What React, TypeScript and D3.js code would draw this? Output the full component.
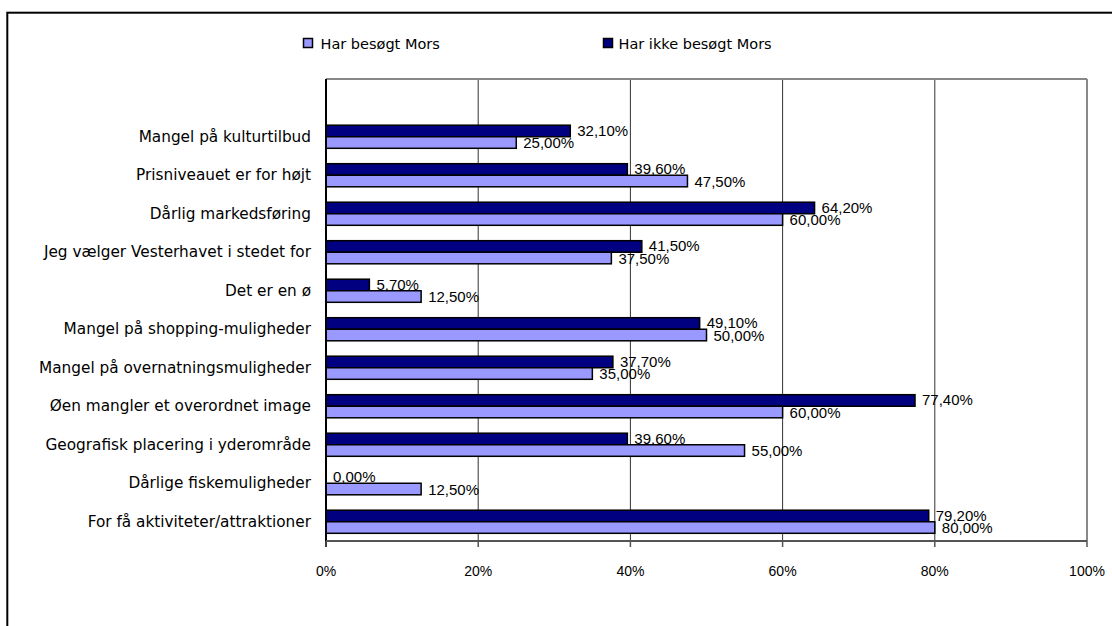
import React from "react";
import * as d3 from "d3";

// Survey answers: reasons for not choosing Mors (share of respondents, %)
const categories = [
  "Mangel på kulturtilbud",
  "Prisniveauet er for højt",
  "Dårlig markedsføring",
  "Jeg vælger Vesterhavet i stedet for",
  "Det er en ø",
  "Mangel på shopping-muligheder",
  "Mangel på overnatningsmuligheder",
  "Øen mangler et overordnet image",
  "Geografisk placering i yderområde",
  "Dårlige fiskemuligheder",
  "For få aktiviteter/attraktioner",
];

const visitedValues = [25.0, 47.5, 60.0, 37.5, 12.5, 50.0, 35.0, 60.0, 55.0, 12.5, 80.0];
const notVisitedValues = [32.1, 39.6, 64.2, 41.5, 5.7, 49.1, 37.7, 77.4, 39.6, 0.0, 79.2];

const seriesNames = ["Har besøgt Mors", "Har ikke besøgt Mors"];
const xTicks = [0, 20, 40, 60, 80, 100];

const W = 1112;
const H = 626;
const plot = { left: 326, right: 1087, top: 79, bottom: 541 };

const LIGHT = "#9999FF";
const DARK = "#000080";
const labelFont = "'DejaVu Sans', sans-serif";
const numFont = "'Liberation Sans', Arial, sans-serif";

const fmt = (v: number) => v.toFixed(2).replace(".", ",") + "%";

export default function App() {
  const x = d3.scaleLinear().domain([0, 100]).range([plot.left, plot.right]);

  // one empty slot is kept above the first category
  const slot = (plot.bottom - plot.top) / (categories.length + 1);
  const y = d3
    .scaleBand<string>()
    .domain(categories)
    .range([plot.top + slot, plot.bottom])
    .paddingInner(0.4)
    .paddingOuter(0.2);
  const sub = d3
    .scaleBand<string>()
    .domain(["notVisited", "visited"])
    .range([0, y.bandwidth()]);

  const rows = categories.map((c, i) => ({
    c,
    visited: visitedValues[i],
    notVisited: notVisitedValues[i],
  }));

  return (
    <svg
      width={W}
      height={H}
      style={{ position: "absolute", left: 0, top: 0, background: "#fff" }}
    >
      <rect x={0} y={0} width={W} height={H} fill="#fff" />
      {/* outer frame */}
      <rect x={7.3} y={12.7} width={W + 100} height={H + 100} fill="none" stroke="#000" strokeWidth={2} />

      {/* legend */}
      <g fontFamily={labelFont} fontSize={14.5} fill="#000">
        <rect x={303.5} y={38.5} width={9} height={9} fill={LIGHT} stroke="#000" strokeWidth={1.5} />
        <text x={320.5} y={43.5} dominantBaseline="central">{seriesNames[0]}</text>
        <rect x={603.5} y={38.5} width={9} height={9} fill={DARK} stroke="#000" strokeWidth={1.5} />
        <text x={618.5} y={43.5} dominantBaseline="central">{seriesNames[1]}</text>
      </g>

      {/* gridlines */}
      {xTicks.slice(1, -1).map((t) => (
        <line key={"g" + t} x1={x(t)} x2={x(t)} y1={plot.top} y2={plot.bottom} stroke="#333" strokeWidth={1} />
      ))}

      {/* plot border */}
      <line x1={plot.left} x2={plot.right} y1={plot.top} y2={plot.top} stroke="#888" strokeWidth={2} />
      <line x1={plot.right} x2={plot.right} y1={plot.top} y2={plot.bottom} stroke="#888" strokeWidth={2} />

      {/* bars: not visited (dark) */}
      {rows.map((r) => (
        <g key={"d" + r.c}>
          <rect
            x={x(0)}
            y={(y(r.c) as number) + (sub("notVisited") as number)}
            width={x(r.notVisited) - x(0)}
            height={sub.bandwidth()}
            fill={DARK}
            stroke="#000"
            strokeWidth={1.5}
          />
          <text
            x={x(r.notVisited) + 7}
            y={(y(r.c) as number) + (sub("notVisited") as number) + sub.bandwidth() / 2 - 0.5}
            dominantBaseline="central"
            fontFamily={numFont}
            fontSize={15}
          >
            {fmt(r.notVisited)}
          </text>
        </g>
      ))}
      {/* bars: visited (light) */}
      {rows.map((r) => (
        <g key={"l" + r.c}>
          <rect
            x={x(0)}
            y={(y(r.c) as number) + (sub("visited") as number)}
            width={x(r.visited) - x(0)}
            height={sub.bandwidth()}
            fill={LIGHT}
            stroke="#000"
            strokeWidth={1.5}
          />
          <text
            x={x(r.visited) + 7}
            y={(y(r.c) as number) + (sub("visited") as number) + sub.bandwidth() / 2}
            dominantBaseline="central"
            fontFamily={numFont}
            fontSize={15}
          >
            {fmt(r.visited)}
          </text>
        </g>
      ))}

      {/* category labels */}
      <g fontFamily={labelFont} fontSize={15.3} textAnchor="end">
        {categories.map((c) => (
          <text key={"c" + c} x={311} y={(y(c) as number) + y.bandwidth() / 2} dominantBaseline="central">
            {c}
          </text>
        ))}
      </g>

      {/* axes */}
      <line x1={plot.left} x2={plot.left} y1={plot.top} y2={plot.bottom + 6} stroke="#000" strokeWidth={2} />
      <line x1={plot.left} x2={plot.right} y1={plot.bottom} y2={plot.bottom} stroke="#555" strokeWidth={2} />
      {xTicks.map((t) => (
        <g key={"t" + t}>
          <line x1={x(t)} x2={x(t)} y1={plot.bottom} y2={plot.bottom + 6} stroke="#555" strokeWidth={1.5} />
          <text
            x={x(t)}
            y={570.5}
            textAnchor="middle"
            dominantBaseline="central"
            fontFamily={numFont}
            fontSize={14}
          >
            {t + "%"}
          </text>
        </g>
      ))}
    </svg>
  );
}
